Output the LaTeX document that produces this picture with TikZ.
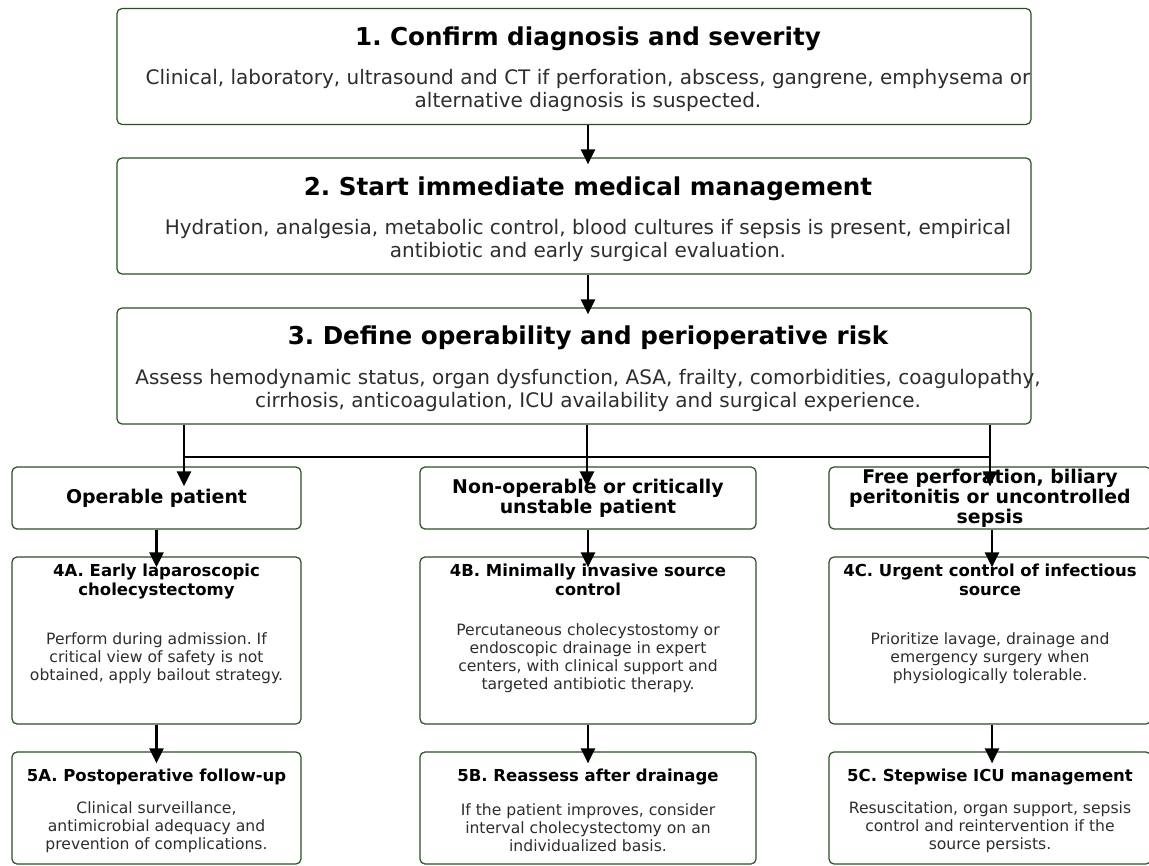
\documentclass[tikz,border=0pt]{standalone}
\usepackage{fontspec}
\setmainfont{DejaVu Sans}
\usetikzlibrary{positioning,arrows.meta}
\definecolor{boxgreen}{RGB}{38,82,32}
\definecolor{bodygray}{RGB}{45,45,45}
\frenchspacing

\begin{document}
\begin{tikzpicture}[x=1pt, y=-1pt,
stage/.style={rectangle, rounded corners=5pt, draw=boxgreen, line width=1.2pt, minimum width=914pt, minimum height=116pt, inner sep=0pt},
choice/.style={rectangle, rounded corners=5pt, draw=boxgreen, line width=1.2pt, minimum height=62pt, inner sep=0pt, align=center, font=\fontsize{18.9}{20}\selectfont\bfseries},
action/.style={rectangle, rounded corners=5pt, draw=boxgreen, line width=1.2pt, minimum height=167pt, inner sep=0pt},
followup/.style={rectangle, rounded corners=5pt, draw=boxgreen, line width=1.2pt, minimum height=112pt, inner sep=0pt},
head/.style={inner sep=0pt, align=center, font=\fontsize{24.6}{27}\selectfont\bfseries},
body/.style={inner sep=0pt, align=center, text=bodygray, font=\fontsize{20}{23}\selectfont},
subhead/.style={inner sep=0pt, align=center, font=\fontsize{16.5}{19}\selectfont\bfseries},
subbody/.style={inner sep=0pt, align=center, text=bodygray, font=\fontsize{15.6}{18}\selectfont},
flow/.style={line width=2.6pt, -{Triangle[width=14pt,length=15pt]}},
]
\useasboundingbox (0,0) rectangle (1149,866);

% main sequence
\node[stage] (step1) at (574,66.5) {};
\node[head] (title1) at ([xshift=14pt,yshift=-31pt]step1.north) {1. Confirm diagnosis and severity};
\node[body] (text1) at ([xshift=14pt,yshift=-83pt]step1.north) {Clinical, laboratory, ultrasound and CT if perforation, abscess, gangrene, emphysema or\\alternative diagnosis is suspected.};

\node[stage] (step2) at (574,216) {};
\node[head] (title2) at ([xshift=14pt,yshift=-31pt]step2.north) {2. Start immediate medical management};
\node[body] (text2) at ([xshift=14pt,yshift=-83pt]step2.north) {Hydration, analgesia, metabolic control, blood cultures if sepsis is present, empirical\\antibiotic and early surgical evaluation.};

\node[stage] (step3) at (574,366) {};
\node[head] (title3) at ([xshift=14pt,yshift=-30pt]step3.north) {3. Define operability and perioperative risk};
\node[body] (text3) at ([xshift=14pt,yshift=-83pt]step3.north) {Assess hemodynamic status, organ dysfunction, ASA, frailty, comorbidities, coagulopathy,\\cirrhosis, anticoagulation, ICU availability and surgical experience.};

% three branches
\node[choice, minimum width=289pt] (operable) at (156.5,498) {Operable patient};
\node[choice, minimum width=336pt] (nonop) at (588,498) {Non-operable or critically\\unstable patient};
\node[choice, minimum width=322pt] (perf) at (990,498) {Free perforation, biliary\\peritonitis or uncontrolled\\sepsis};

\node[action, minimum width=289pt] (lapchole) at (156.5,640.5) {};
\node[subhead, anchor=north] (lapchole title) at ([yshift=-7pt]lapchole.north) {4A. Early laparoscopic\\cholecystectomy};
\node[subbody] (lapchole text) at ([yshift=-17.5pt]lapchole.center) {Perform during admission. If\\critical view of safety is not\\obtained, apply bailout strategy.};

\node[action, minimum width=336pt] (drainage) at (588,640.5) {};
\node[subhead, anchor=north] (drainage title) at ([yshift=-7pt]drainage.north) {4B. Minimally invasive source\\control};
\node[subbody] (drainage text) at ([yshift=-17.5pt]drainage.center) {Percutaneous cholecystostomy or\\endoscopic drainage in expert\\centers, with clinical support and\\targeted antibiotic therapy.};

\node[action, minimum width=322pt] (source) at (990,640.5) {};
\node[subhead, anchor=north] (source title) at ([yshift=-7pt]source.north) {4C. Urgent control of infectious\\source};
\node[subbody] (source text) at ([yshift=-17.5pt]source.center) {Prioritize lavage, drainage and\\emergency surgery when\\physiologically tolerable.};

\node[followup, minimum width=289pt] (postop) at (156.5,808) {};
\node[subhead] (postop title) at ([yshift=-26pt]postop.north) {5A. Postoperative follow-up};
\node[subbody] (postop text) at ([yshift=-76pt]postop.north) {Clinical surveillance,\\antimicrobial adequacy and\\prevention of complications.};

\node[followup, minimum width=336pt] (reassess) at (588,808) {};
\node[subhead] (reassess title) at ([yshift=-26pt]reassess.north) {5B. Reassess after drainage};
\node[subbody] (reassess text) at ([yshift=-76pt]reassess.north) {If the patient improves, consider\\interval cholecystectomy on an\\individualized basis.};

\node[followup, minimum width=322pt] (icu) at (990,808) {};
\node[subhead] (icu title) at ([yshift=-26pt]icu.north) {5C. Stepwise ICU management};
\node[subbody] (icu text) at ([yshift=-76pt]icu.north) {Resuscitation, organ support, sepsis\\control and reintervention if the\\source persists.};

% connectors
\coordinate (forkA) at (184,457);
\coordinate (forkB) at (587,457);
\coordinate (forkC) at (990,457);

\draw[flow] (step1.south -| nonop) -- ([yshift=-7pt]step2.north -| nonop);
\draw[flow] (step2.south -| nonop) -- ([yshift=-7pt]step3.north -| nonop);
\draw[line width=2.6pt] (forkA) -- (forkC);
\draw[flow] (step3.south -| forkA) -- ([yshift=-20pt]operable.north -| forkA);
\draw[flow] (step3.south -| forkB) -- ([yshift=-20pt]nonop.north -| forkB);
\draw[flow] (step3.south -| forkC) -- ([yshift=-20pt]perf.north -| forkC);

\draw[flow] (operable) -- ([yshift=-11pt]lapchole.north);
\draw[flow] (nonop) -- ([yshift=-11pt]drainage.north);
\draw[flow] ([xshift=2pt]perf.south) -- ([xshift=2pt,yshift=-11pt]source.north);
\draw[flow] (lapchole) -- ([yshift=-12pt]postop.north);
\draw[flow] (drainage) -- ([yshift=-12pt]reassess.north);
\draw[flow] ([xshift=2pt]source.south) -- ([xshift=2pt,yshift=-12pt]icu.north);
\end{tikzpicture}
\end{document}
